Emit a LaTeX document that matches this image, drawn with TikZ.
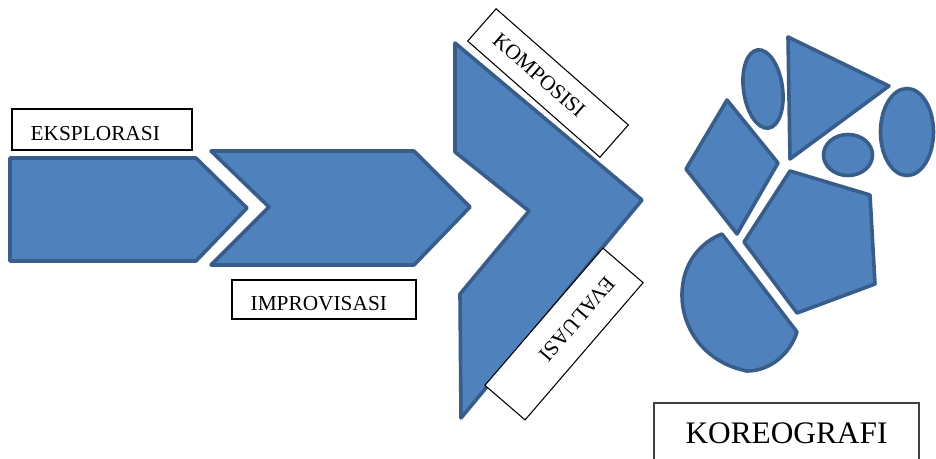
\documentclass[tikz,border=0pt]{standalone}
\usepackage{fontspec}
\setmainfont{Liberation Serif}

\tikzset{every picture/.style={line width=0.75pt}}
\tikzset{
  blueshape/.style={draw={rgb, 255:red, 56; green, 93; blue, 138 }, fill={rgb, 255:red, 79; green, 129; blue, 189 }, line width=2.7pt, line join=round},
  labelbox/.style={draw={rgb, 255:red, 0; green, 0; blue, 0 }, fill=white, line width=0.8pt, align=left, inner xsep=14pt, inner ysep=0pt, font=\fontsize{16}{19}\selectfont},
  titlebox/.style={draw={rgb, 255:red, 64; green, 64; blue, 64 }, fill=white, line width=1.1pt, inner sep=0pt, font=\fontsize{23.5}{28}\selectfont},
}

\begin{document}
\begin{tikzpicture}[x=0.75pt,y=0.75pt,yscale=-1,xscale=1]
    \useasboundingbox (0,0) rectangle (936,458); %diagram 936 x 458

    %Shape: Pentagon arrow
    \draw [blueshape] (10,158) -- (196,158) -- (247,208) -- (196,261) -- (10,261) -- cycle;
    %Shape: Chevron
    \draw [blueshape] (211,151) -- (414,151) -- (470,207) -- (414,265) -- (211,265) -- (269,207) -- cycle;
    %Shape: Chevron (big)
    \draw [blueshape] (455,43) -- (642,200) -- (461,418) -- (460,294) -- (529,211) -- (455,152) -- cycle;

    %Shape: Ellipse
    \draw [blueshape, rotate around={-8:(763,89)}] (763,89) circle [x radius=19.5, y radius=39.5];
    %Shape: Triangle
    \draw [blueshape] (788,37) -- (889,86) -- (790,159) -- cycle;
    %Shape: Ellipse
    \draw [blueshape] (907,132) circle [x radius=26.5, y radius=43.5];
    %Shape: Ellipse
    \draw [blueshape] (848,155) circle [x radius=24.5, y radius=20.5];
    %Shape: Diamond
    \draw [blueshape] (727,100) -- (778,163) -- (737,234) -- (686,169) -- cycle;
    %Shape: Regular Polygon
    \draw [blueshape] (790,171) -- (870,195) -- (875,284) -- (797,313) -- (744,242) -- cycle;
    %Shape: Chord
    \draw [blueshape] (722,234) .. controls (701,242) and (682,263) .. (682,295) .. controls (682,330) and (706,363) .. (747,371) .. controls (770,371) and (790,354) .. (797,332) -- cycle;

    % Text Node
    \node [labelbox, text width=107pt, text height=16.5pt, minimum height=30.75pt] (eksplorasi) at (102,129.5) {EKSPLORASI};
    % Text Node
    \node [labelbox, text width=110pt, text height=16.5pt, minimum height=29.25pt] (improvisasi) at (324,299.5) {IMPROVISASI};
    % Text Node
    \node [labelbox, rotate=-41.3, text width=104pt, minimum height=32.25pt] (komposisi) at (548,83) {KOMPOSISI};
    % Text Node
    \node [labelbox, rotate=-130.7, text width=107.75pt, minimum height=39.75pt] (evaluasi) at (564,334) {EVALUASI};
    % Text Node
    \node [titlebox, minimum width=198.75pt, minimum height=45pt] (koreografi) at (786.5,433) {KOREOGRAFI};

\end{tikzpicture}
\end{document}
